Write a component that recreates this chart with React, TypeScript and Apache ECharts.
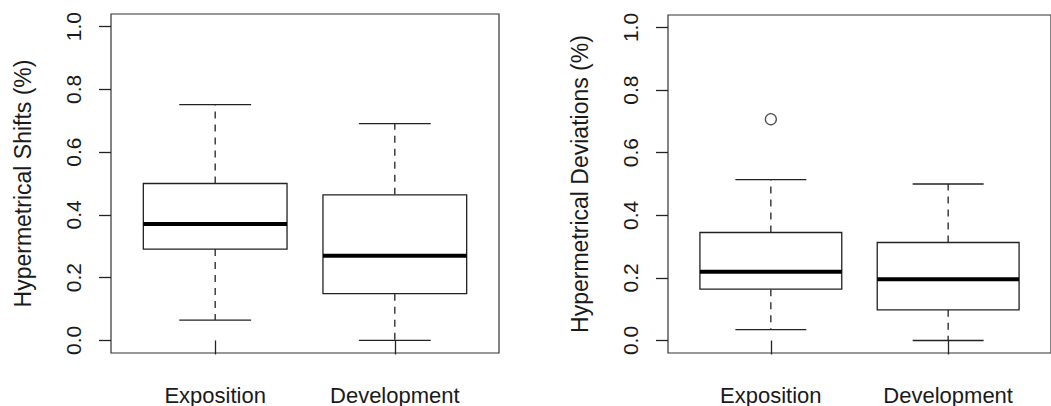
import React, { useEffect, useRef } from "react";
import * as echarts from "echarts";

const categories = ["Exposition", "Development"];
const yTicks = [0, 0.2, 0.4, 0.6, 0.8, 1.0];
// [lower whisker, Q1, median, Q3, upper whisker]
const shiftsStats = [
  [0.065, 0.291, 0.371, 0.5, 0.751],
  [0.0, 0.149, 0.27, 0.464, 0.691],
];
const shiftsOutliers: number[][] = [];
const deviationsStats = [
  [0.035, 0.164, 0.22, 0.345, 0.514],
  [0.0, 0.098, 0.196, 0.313, 0.5],
];
const deviationsOutliers = [[1, 0.707]];
const yTitles = ["Hypermetrical Shifts (%)", "Hypermetrical Deviations (%)"];

const FONT = "'Liberation Sans', Arial, Helvetica, sans-serif";
const INK = "#1a1a1a";
const LINE = "#222";

const renderBox = (params: any, api: any) => {
  const x = api.value(0);
  const lo = api.value(1);
  const q1 = api.value(2);
  const med = api.value(3);
  const q3 = api.value(4);
  const hi = api.value(5);
  const p = (xx: number, yy: number) => api.coord([xx, yy]);
  const [xl, yq3] = p(x - 0.4, q3);
  const [xr, yq1] = p(x + 0.4, q1);
  const [xc, ym] = p(x, med);
  const yl = p(x, lo)[1];
  const yh = p(x, hi)[1];
  const cl = p(x - 0.2, lo)[0];
  const cr = p(x + 0.2, lo)[0];
  const st = { stroke: LINE, lineWidth: 1.3, fill: null };
  return {
    type: "group",
    children: [
      { type: "line", shape: { x1: xc, y1: yq3, x2: xc, y2: yh }, style: { ...st, lineDash: [7, 6] } },
      { type: "line", shape: { x1: xc, y1: yq1, x2: xc, y2: yl }, style: { ...st, lineDash: [7, 6] } },
      { type: "line", shape: { x1: cl, y1: yh, x2: cr, y2: yh }, style: st },
      { type: "line", shape: { x1: cl, y1: yl, x2: cr, y2: yl }, style: st },
      { type: "rect", shape: { x: xl, y: yq3, width: xr - xl, height: yq1 - yq3 }, style: { stroke: LINE, lineWidth: 1.3, fill: "#fff" } },
      { type: "line", shape: { x1: xl, y1: ym, x2: xr, y2: ym }, style: { stroke: "#000", lineWidth: 4 } },
    ],
  };
};

function panel(idx: number, stats: number[][], outliers: number[][]) {
  return {
    data: stats.map((s, i) => [i + 1, ...s]),
    outliers,
    idx,
  };
}

export default function App() {
  const ref = useRef<HTMLDivElement>(null);
  useEffect(() => {
    if (!ref.current) return;
    const chart = echarts.init(ref.current, null, { renderer: "svg" });
    const panels = [panel(0, shiftsStats, shiftsOutliers), panel(1, deviationsStats, deviationsOutliers)];
    const grids = [
      { left: 111, top: 14, width: 388, height: 339 },
      { left: 668, top: 15, width: 388, height: 338 },
    ].map((g) => ({ ...g, show: true, borderColor: "#333", borderWidth: 1.2, backgroundColor: "transparent", containLabel: false }));

    const xAxes = panels.map((p) => ({
      type: "value",
      gridIndex: p.idx,
      min: 0.42,
      max: 2.58,
      axisLine: { show: false },
      splitLine: { show: false },
      axisTick: { show: true, inside: false, length: 14, customValues: [1, 2], lineStyle: { color: LINE, width: 1.3 } },
      axisLabel: {
        show: true,
        customValues: [1, 2],
        formatter: (v: number) => categories[Math.round(v) - 1] ?? "",
        margin: 31,
        fontSize: 22,
        fontFamily: FONT,
        color: INK,
      },
    }));
    const yAxes = panels.map((p) => ({
      type: "value",
      gridIndex: p.idx,
      min: -0.04,
      max: 1.04,
      name: yTitles[p.idx],
      nameLocation: "middle",
      nameRotate: 90,
      nameGap: 77,
      nameTextStyle: { fontSize: 23, fontFamily: FONT, color: INK },
      axisLine: { show: false },
      splitLine: { show: false },
      axisTick: { show: true, inside: false, length: 12, customValues: yTicks, lineStyle: { color: LINE, width: 1.3 } },
      axisLabel: {
        show: true,
        customValues: yTicks,
        rotate: 90,
        formatter: (v: number) => v.toFixed(1),
        margin: 27,
        fontSize: 21,
        fontFamily: FONT,
        color: INK,
      },
    }));
    const series: any[] = [];
    panels.forEach((p) => {
      series.push({
        type: "custom",
        xAxisIndex: p.idx,
        yAxisIndex: p.idx,
        renderItem: renderBox,
        encode: { x: 0, y: [1, 2, 3, 4, 5] },
        data: p.data,
        clip: false,
      });
      series.push({
        type: "scatter",
        xAxisIndex: p.idx,
        yAxisIndex: p.idx,
        symbol: "circle",
        symbolSize: 11,
        itemStyle: { color: "#fff", borderColor: LINE, borderWidth: 1.3 },
        data: p.outliers,
      });
    });
    chart.setOption({
      animation: false,
      backgroundColor: "#fff",
      grid: grids,
      xAxis: xAxes,
      yAxis: yAxes,
      series,
    });
    return () => chart.dispose();
  }, []);
  return (
    <div
      ref={ref}
      style={{ position: "fixed", left: 0, top: 0, width: 1051, height: 406, background: "#fff" }}
    />
  );
}
